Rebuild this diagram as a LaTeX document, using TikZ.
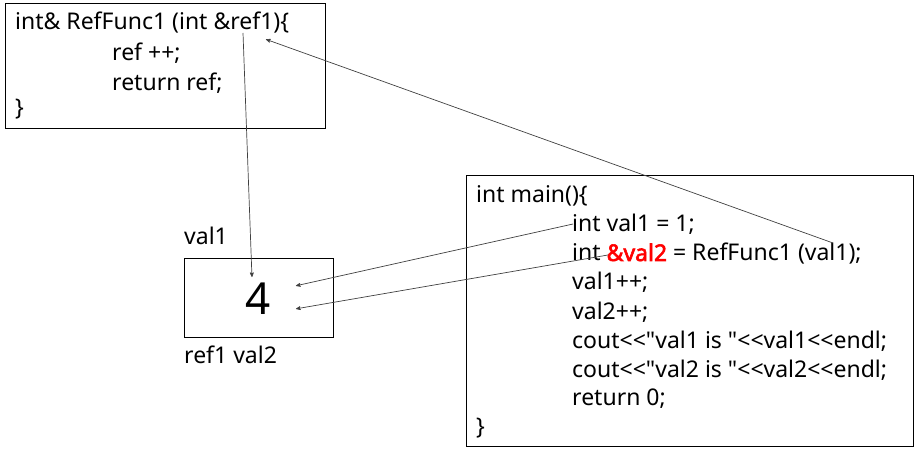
\documentclass[tikz,border=0pt]{standalone}
\usepackage{fontspec}
\setmainfont{Noto Sans}[Ligatures=TeXOff]
\newfontfamily\strongcode{Noto Sans}[Ligatures=TeXOff,FakeBold=2.5]
\usetikzlibrary{arrows,positioning}

\begin{document}
\begin{tikzpicture}[x=1pt,y=-1pt,>=stealth',thin]
		\tikzstyle{codebox}=[draw=black,line width=1.2pt,anchor=north west,inner sep=0pt]
		\tikzstyle{code}=[anchor=base west,inner sep=0pt,font=\fontsize{23}{29}\selectfont]
		\tikzstyle{link}=[->,draw=black!75,line width=0.7pt,shorten >=1pt]
		\useasboundingbox (0,0) rectangle (915,454);
		
		% boxes
		\node[codebox,minimum width=320pt,minimum height=125pt]	(FuncBox)	at (5,3)		{};
		\node[codebox,minimum width=149pt,minimum height=79pt]	(ValBox)	at (184,258)	{};
		\node[codebox,minimum width=447pt,minimum height=271pt]	(MainBox)	at (466,175)	{};
		
		% function RefFunc1
		\node[code]	(FuncHead)	at (15,30)		{int\& RefFunc1 (int \&ref1)\{};
		\node[code]	(FuncInc)	at (112,61)		{ref ++;};
		\node[code]	(FuncRet)	at (112,91)		{return ref;};
		\node[code]	(FuncEnd)	at (15,116)		{\}};
		
		% the variable in memory
		\node[code]	(ValName)	at (184,245)	{val1};
		\node[anchor=base,inner sep=0pt,font=\fontsize{44}{50}\selectfont]	(ValNum)	at (258,314)	{4};
		\node[code]	(ValAlias)	at (184,363)	{ref1 val2};
		
		% function main
		\node[code]	(MainHead)	at (476,203)	{int main()\{};
		\node[code]	(MainDecl)	at (572,232)	{int val1 = 1;};
		\node[code]	(MainRef)	at (572,261)	{int {\color{red}\strongcode\&val2} = RefFunc1 (val1);};
		\node[code]	(MainIncA)	at (572,290)	{val1++;};
		\node[code]	(MainIncB)	at (572,319)	{val2++;};
		\node[code]	(MainOutA)	at (572,348)	{cout<<"val1 is "<<val1<<endl;};
		\node[code]	(MainOutB)	at (572,377)	{cout<<"val2 is "<<val2<<endl;};
		\node[code]	(MainRet)	at (572,405)	{return 0;};
		\node[code]	(MainEnd)	at (476,434)	{\}};
		
		% connector ends
		\coordinate	(RefParam)	at (243,33);
		\coordinate	(RefParamIn)	at (265,39);
		\coordinate	(ValTop)	at (252,278);
		\coordinate	(ValRightA)	at (295,286);
		\coordinate	(ValRightB)	at (295,309);
		\coordinate	(CallArg)	at (833,243);
		\coordinate	(DeclVal1)	at (573,224);
		\coordinate	(DeclVal2)	at (608,255);
		
		\draw[link]	(RefParam) -- (ValTop);
		\draw[link]	(CallArg) -- (RefParamIn);
		\draw[link]	(DeclVal1) -- (ValRightA);
		\draw[link]	(DeclVal2) -- (ValRightB);
\end{tikzpicture}
\end{document}
